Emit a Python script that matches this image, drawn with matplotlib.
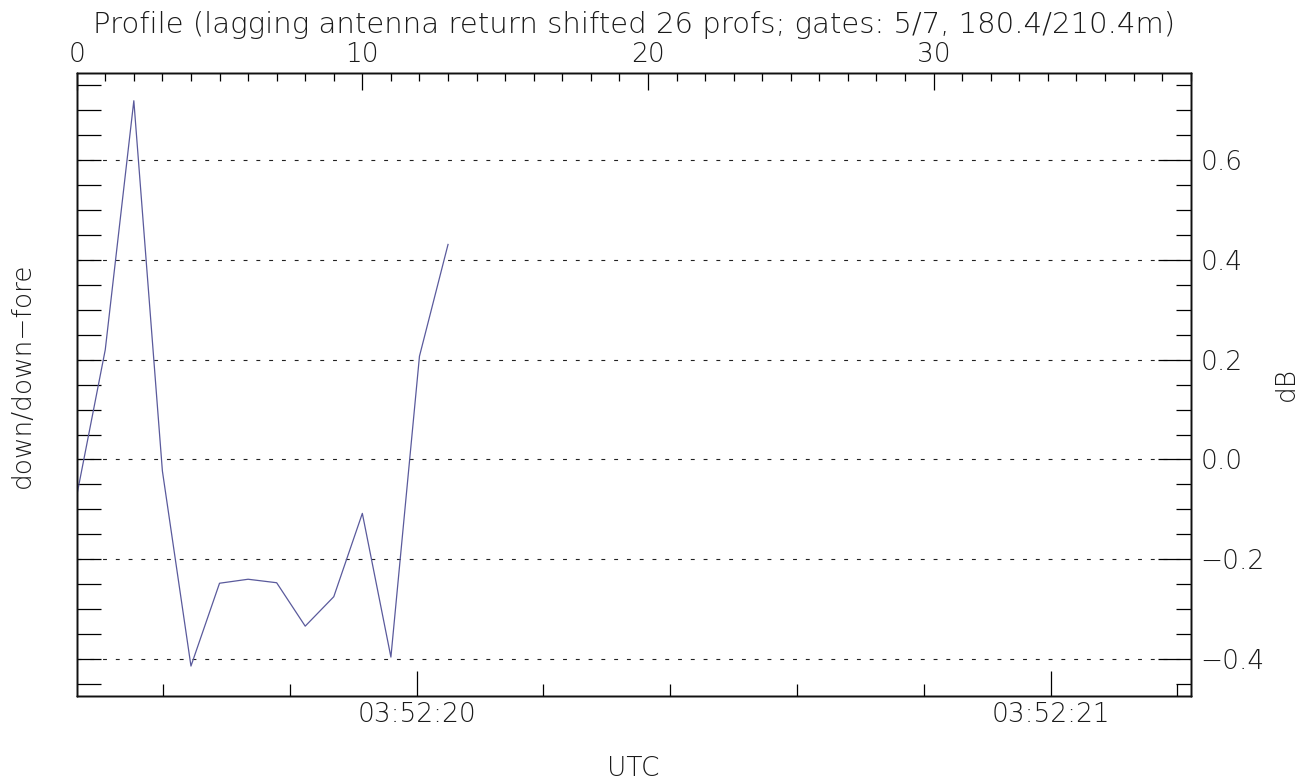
import matplotlib
matplotlib.use("Agg")
import matplotlib.pyplot as plt
from matplotlib.ticker import MultipleLocator, FixedLocator, FuncFormatter

# ---- data ----
profiles = list(range(14))
ratio_db = [-0.073, 0.220, 0.719, -0.023, -0.414, -0.248, -0.240, -0.247,
            -0.334, -0.275, -0.108, -0.396, 0.207, 0.431]
n_profiles_axis = 39
t_first = 19.4637      # seconds after 03:52:00 for profile 0
sec_per_profile = 0.04506
time_major = [20, 21]
time_labels = ["03:52:20", "03:52:21"]
top_major = [0, 10, 20, 30]
right_major = [-0.4, -0.2, 0.0, 0.2, 0.4, 0.6]
ylim = (-0.473, 0.774)

title = "Profile (lagging antenna return shifted 26 profs; gates: 5/7, 180.4/210.4m)"

plt.rcParams['font.family'] = ['DejaVu Sans']
plt.rcParams['font.weight'] = 'light'
plt.rcParams['axes.labelweight'] = 'light'

W, H = 1313, 780
fig = plt.figure(figsize=(W / 100, H / 100), dpi=100)
fs = 19
tc = '#1a1a1a'
left, right, top, bottom = 76.7, 1190.7, 73.3, 695.5
ax = fig.add_axes([left / W, 1 - bottom / H, (right - left) / W, (bottom - top) / H])

line_color = '#5a5a9c'
ax.plot(profiles, ratio_db, color=line_color, lw=0.9, zorder=3)
ax.set_xlim(0, n_profiles_axis)
ax.set_ylim(*ylim)

# grid (dotted) at right major ticks
for v in right_major:
    ax.axhline(v, color='#222222', lw=0.8, linestyle=(0, (3.5, 8)), zorder=1)

# right y axis
axr = ax.twinx()
axr.set_ylim(*ylim)
axr.yaxis.set_major_locator(FixedLocator(right_major))
axr.yaxis.set_minor_locator(MultipleLocator(0.05))
axr.yaxis.set_major_formatter(FuncFormatter(
    lambda v, p: f"{v:.1f}".replace('-', '\u2212') if abs(v) > 1e-9 else "0.0"))
axr.tick_params(axis='y', which='major', direction='in', length=24, width=0.9,
                labelsize=fs, pad=7, labelcolor=tc)
axr.tick_params(axis='y', which='minor', direction='in', length=11, width=0.9)
axr.set_ylabel("dB", fontsize=fs, color=tc, fontweight='light',
               va='center', ha='center', rotation_mode='anchor')
axr.yaxis.set_label_coords(1.0855, 0.5)

# bottom time axis
axb = ax.twiny()
axb.xaxis.set_ticks_position('bottom')
axb.xaxis.set_label_position('bottom')
axb.set_xlim(t_first, t_first + n_profiles_axis * sec_per_profile)
axb.xaxis.set_major_locator(FixedLocator(time_major))
axb.xaxis.set_major_formatter(FuncFormatter(
    lambda v, p: time_labels[time_major.index(int(round(v)))] if int(round(v)) in time_major else ""))
axb.xaxis.set_minor_locator(MultipleLocator(0.2))
axb.tick_params(axis='x', which='major', direction='in', length=18, width=0.9,
                labelsize=fs, pad=5, top=False, bottom=True, labelcolor=tc)
axb.tick_params(axis='x', which='minor', direction='in', length=9, width=0.9,
                top=False, bottom=True)
axb.set_xlabel("UTC", fontsize=fs, color=tc, fontweight='light', va='baseline')
axb.xaxis.set_label_coords(0.5, -(776 - bottom) / (bottom - top))

# top axis: profile (set after twins)
ax.xaxis.tick_top()
ax.xaxis.set_label_position('top')
ax.xaxis.set_major_locator(FixedLocator(top_major))
ax.xaxis.set_minor_locator(MultipleLocator(1))
ax.tick_params(axis='x', which='major', direction='in', length=12, width=0.9,
               labelsize=fs, pad=4.5, top=True, bottom=False, labeltop=True,
               labelbottom=False, labelcolor=tc)
ax.tick_params(axis='x', which='minor', direction='in', length=6, width=0.9,
               top=True, bottom=False)
ax.set_xlabel(title, fontsize=21, color=tc, fontweight='light', va='baseline')
ax.xaxis.set_label_coords(0.5, 1 + (top - 33) / (bottom - top))

# left y ticks (no labels)
ax.yaxis.tick_left()
ax.yaxis.set_major_locator(MultipleLocator(0.05))
ax.tick_params(axis='y', which='major', direction='in', length=17, width=0.9,
               left=True, right=False, labelleft=False)
ax.set_ylabel("down/down\u2212fore", fontsize=fs, color=tc, fontweight='light',
              va='center', ha='center', rotation_mode='anchor')
ax.yaxis.set_label_coords((22 - left) / (right - left), (bottom - 375) / (bottom - top))

for a in (ax, axr, axb):
    for s in a.spines.values():
        s.set_linewidth(1.0)
        s.set_color('#111111')

fig.savefig("out.png", dpi=100)
